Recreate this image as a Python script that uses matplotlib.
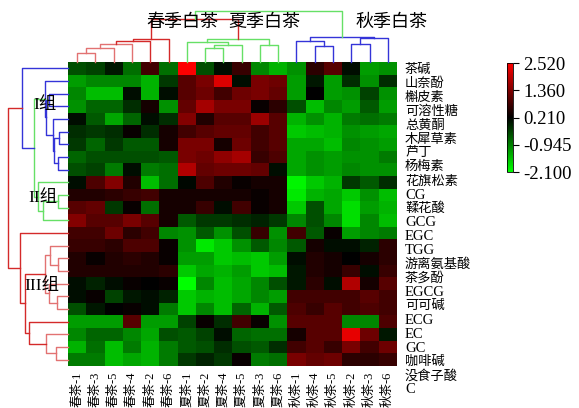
import numpy as np
import matplotlib
matplotlib.use('Agg')
import matplotlib.pyplot as plt
from matplotlib.colors import LinearSegmentedColormap

plt.rcParams['font.family'] = ['Liberation Serif', 'Noto Sans CJK SC']
plt.rcParams['axes.unicode_minus'] = False

# 样品（列）与成分（行），按聚类后的顺序
samples = ['春茶-1', '春茶-3', '春茶-5', '春茶-4', '春茶-2', '春茶-6',
           '夏茶-1', '夏茶-2', '夏茶-4', '夏茶-5', '夏茶-3', '夏茶-6',
           '秋茶-1', '秋茶-4', '秋茶-5', '秋茶-2', '秋茶-3', '秋茶-6']
compounds = ['茶碱', '山奈酚', '槲皮素', '可溶性糖', '总黄酮', '木犀草素', '芦丁',
             '杨梅素', '花旗松素', 'CG', '鞣花酸', 'GCG', 'EGC', 'TGG', '游离氨基酸',
             '茶多酚', 'EGCG', '可可碱', 'ECG', 'EC', 'GC', '咖啡碱', '没食子酸', 'C']

values = np.array([
    [-0.5, -0.4, 0.0, -0.8, 0.8, -0.8, 2.5, -0.5, 0.1, 0.7, -1.0, -1.4, -1.1, 0.6, 1.0, 0.1, -1.2, -1.1],
    [-1.2, -1.0, -1.0, -1.0, -1.4, -0.3, 1.0, 1.3, 2.2, 0.1, 1.3, 1.2, -1.2, 0.0, -1.2, -0.2, -1.1, -0.2],
    [-1.0, -1.5, -1.5, 0.1, -1.4, 0.1, 1.0, 1.2, 0.8, 1.2, 1.3, 1.1, -1.2, 0.2, -1.2, -1.1, -0.4, -1.1],
    [-1.1, -0.7, -0.7, -0.2, 0.4, -1.1, 1.1, 1.7, 1.3, 1.3, 0.3, 0.6, -0.5, -1.5, -1.0, -1.2, -0.6, -1.2],
    [0.1, -0.6, -1.3, -0.7, 0.1, -0.2, 1.4, 0.5, 1.0, 1.0, 1.6, 1.0, -1.4, -1.1, -1.4, -0.9, -0.8, -0.9],
    [-0.2, -0.3, -0.2, 0.3, -0.2, 0.4, 0.8, 1.0, 1.1, 1.1, 0.8, 1.0, -1.6, -1.5, -1.4, -1.1, -1.2, -1.3],
    [-0.3, -0.7, -0.3, -0.6, -0.6, 0.4, 1.3, 1.3, 0.4, 1.2, 0.8, 1.0, -1.3, -1.3, -1.5, -1.0, -1.1, -1.2],
    [-0.7, -0.5, -0.5, -0.5, -0.5, -0.6, 1.3, 1.2, 1.5, 1.7, 0.7, 0.9, -1.3, -1.1, -1.2, -1.1, -1.1, -0.9],
    [-0.5, -0.4, -0.9, 0.1, -0.9, -0.8, 1.8, 1.1, 1.2, 1.2, 1.1, 0.1, -1.3, -1.1, -1.2, -1.0, -1.1, -1.1],
    [0.1, 0.9, 1.4, 0.5, -1.5, -0.8, 0.15, 0.9, 0.5, 0.3, 0.4, 0.4, -2.0, -1.6, -1.4, -0.3, -0.6, -0.2],
    [0.5, 0.5, 0.6, 0.7, 0.8, 0.4, 0.4, 0.4, 0.4, 0.4, 0.3, 0.4, -1.9, -1.4, -1.3, -1.6, -1.1, -1.5],
    [1.0, 1.1, -0.3, 0.3, -0.8, 0.4, 0.4, 0.7, 0.1, 0.8, 0.3, 0.4, -1.6, -0.5, -1.3, -1.8, -1.2, -1.4],
    [1.4, 1.0, 1.0, 1.3, 1.0, 0.4, -0.6, -0.3, -0.3, -0.2, -0.1, -0.3, -1.0, -0.5, -1.0, -1.8, -1.0, -1.5],
    [0.8, 0.8, 1.2, 0.6, 0.8, -1.0, -1.1, -0.6, -1.1, -0.5, 0.7, -1.1, 0.8, -0.6, 0.3, -1.2, -1.0, -0.9],
    [0.7, 0.7, 0.6, 0.9, 0.9, 0.3, -1.1, -1.9, -1.6, -1.1, -0.6, -1.0, -0.6, 0.4, 0.1, 0.1, -0.1, 0.6],
    [0.5, 0.3, 0.5, 0.6, 0.5, 0.3, -1.2, -1.2, -1.6, -1.5, -1.6, -1.2, 0.1, 0.5, 0.4, 0.2, 0.4, 0.6],
    [0.5, 0.5, 0.5, 0.5, 0.5, 0.6, -1.6, -1.3, -1.4, -1.2, -1.6, -1.5, 0.0, 0.5, 0.4, 0.7, 0.1, 0.7],
    [0.1, -0.1, 0.1, 0.3, 0.2, 0.3, -2.1, -1.0, -1.5, -1.3, -1.0, -0.5, 0.0, 0.6, 0.1, 1.8, 0.4, 1.0],
    [0.1, 0.3, -0.4, 0.0, 0.1, -0.1, -1.6, -1.4, -1.5, -1.3, -1.0, -1.2, 0.8, 0.8, 0.8, 0.8, 1.0, 0.8],
    [-0.5, 0.0, 0.2, 0.3, 0.1, -0.9, -1.6, -1.0, -1.5, -0.7, -1.4, -0.6, 0.9, 0.7, 1.0, 0.8, 0.9, 0.8],
    [-1.2, -1.2, -1.2, 1.0, -1.2, -1.2, -0.4, 0.3, -0.2, 0.8, 0.3, -1.1, 1.0, 1.0, 1.0, -1.0, -1.0, 0.9],
    [-1.0, -0.7, -0.7, -1.0, -1.3, -0.5, -0.6, -0.4, 0.1, -0.7, -0.8, -0.8, 0.4, 1.0, 1.0, 2.3, 1.2, 0.0],
    [-1.4, -0.8, -1.5, -0.9, -1.4, -0.9, -0.6, -0.5, -0.2, -0.5, -0.6, -0.2, 0.8, 1.0, 0.7, 1.3, 0.8, 1.2],
    [-0.9, -0.9, -1.5, -1.3, -1.4, -0.9, -0.3, -0.1, -0.3, 0.3, -0.9, -0.8, 1.3, 1.1, 1.2, 0.6, 0.6, 0.7],
])

cbar_ticks = [2.520, 1.360, 0.210, -0.945, -2.100]

# 聚类合并：(节点a, 节点b, 高度, 颜色)，编号 >= n 的为前面的合并节点
RED, LRED, GRN, BLU = '#d42a2a', '#e27272', '#66e066', '#3434d8'
col_links = [
    (0, 1, 25, LRED), (18, 2, 37, LRED), (19, 3, 50, LRED), (20, 4, 57, RED), (21, 5, 62, RED),
    (7, 8, 37, GRN), (23, 9, 47, GRN), (6, 24, 55, GRN), (10, 11, 47, GRN), (25, 26, 62, GRN),
    (13, 14, 42, BLU), (12, 28, 57, BLU), (15, 16, 50, BLU), (30, 17, 65, BLU), (29, 31, 68, BLU),
    (22, 27, 115, RED), (33, 32, 138, GRN),
]
row_links = [
    (5, 6, 30, BLU), (7, 8, 34, BLU), (24, 25, 47, BLU), (4, 26, 50, BLU), (2, 3, 62, BLU),
    (28, 27, 72, BLU), (1, 29, 74, BLU),
    (10, 11, 32, GRN), (31, 12, 82, GRN), (9, 32, 97, GRN), (30, 33, 112, GRN), (0, 34, 150, BLU),
    (15, 16, 32, LRED), (14, 36, 60, LRED), (18, 19, 37, LRED), (17, 38, 62, LRED), (37, 39, 77, LRED),
    (22, 23, 40, LRED), (21, 41, 72, LRED), (20, 42, 127, RED), (40, 43, 140, RED), (13, 44, 157, RED),
    (35, 45, 197, RED),
]


def draw_tree(ax, links, n, side):
    pos = {i: float(i) for i in range(n)}
    hgt = {i: 0.0 for i in range(n)}
    for k, (a, b, h, c) in enumerate(links):
        p = [pos[a], pos[a], pos[b], pos[b]]
        q = [hgt[a], h, h, hgt[b]]
        if side == 'top':
            ax.plot(p, q, color=c, lw=1.0, clip_on=False)
        else:
            ax.plot(q, p, color=c, lw=1.0, clip_on=False)
        pos[n + k] = (pos[a] + pos[b]) / 2
        hgt[n + k] = h


W, H = 579, 408
fig = plt.figure(figsize=(W / 100, H / 100), dpi=100)


def box(l, t, r, b):
    return [l / W, 1 - b / H, (r - l) / W, (b - t) / H]


cmap = LinearSegmentedColormap.from_list('gbr', ['#00ff00', '#000000', '#ff0000'])

ax = fig.add_axes(box(68, 62, 397, 366))
im = ax.imshow(values, cmap=cmap, vmin=-2.1, vmax=2.52, aspect='auto', interpolation='nearest')
ax.set_xticks(range(len(samples)))
ax.set_xticklabels(samples, rotation=90, fontsize=9)
ax.tick_params(length=0, pad=4)
ax.set_yticks([])
for s in ax.spines.values():
    s.set_visible(False)

# 行标签（原图中间距略大于行高）
for i, name in enumerate(compounds):
    size = 10.5 if name.isascii() else 9.5
    fig.text(405 / W, 1 - (70 + 13.9 * i) / H, name, fontsize=size, va='center', ha='left')

ax_top = fig.add_axes(box(68, 11, 397, 62))
draw_tree(ax_top, col_links, len(samples), 'top')
ax_top.set_xlim(-0.5, len(samples) - 0.5)
ax_top.set_ylim(0, 138)
ax_top.axis('off')

ax_left = fig.add_axes(box(8, 62, 68, 366))
draw_tree(ax_left, row_links, len(compounds), 'left')
ax_left.set_ylim(len(compounds) - 0.5, -0.5)
ax_left.set_xlim(197, 0)
ax_left.axis('off')

for txt, x in [('春季白茶', 182), ('夏季白茶', 264), ('秋季白茶', 392)]:
    fig.text(x / W, 1 - 22 / H, txt, fontsize=13, ha='center', va='center')

for txt, x, y in [('I组', 45, 105), ('II组', 43, 198), ('III组', 42, 286)]:
    fig.text(x / W, 1 - y / H, txt, fontsize=12.5, ha='center', va='center')

cax = fig.add_axes(box(507, 63, 513, 172))
cb = fig.colorbar(im, cax=cax, ticks=cbar_ticks)
cb.ax.set_yticklabels(['%.3f' % t for t in cbar_ticks])
cb.ax.tick_params(labelsize=13.5, length=4, width=0.8)
cb.outline.set_linewidth(0.6)

fig.savefig('out.png', dpi=100)
